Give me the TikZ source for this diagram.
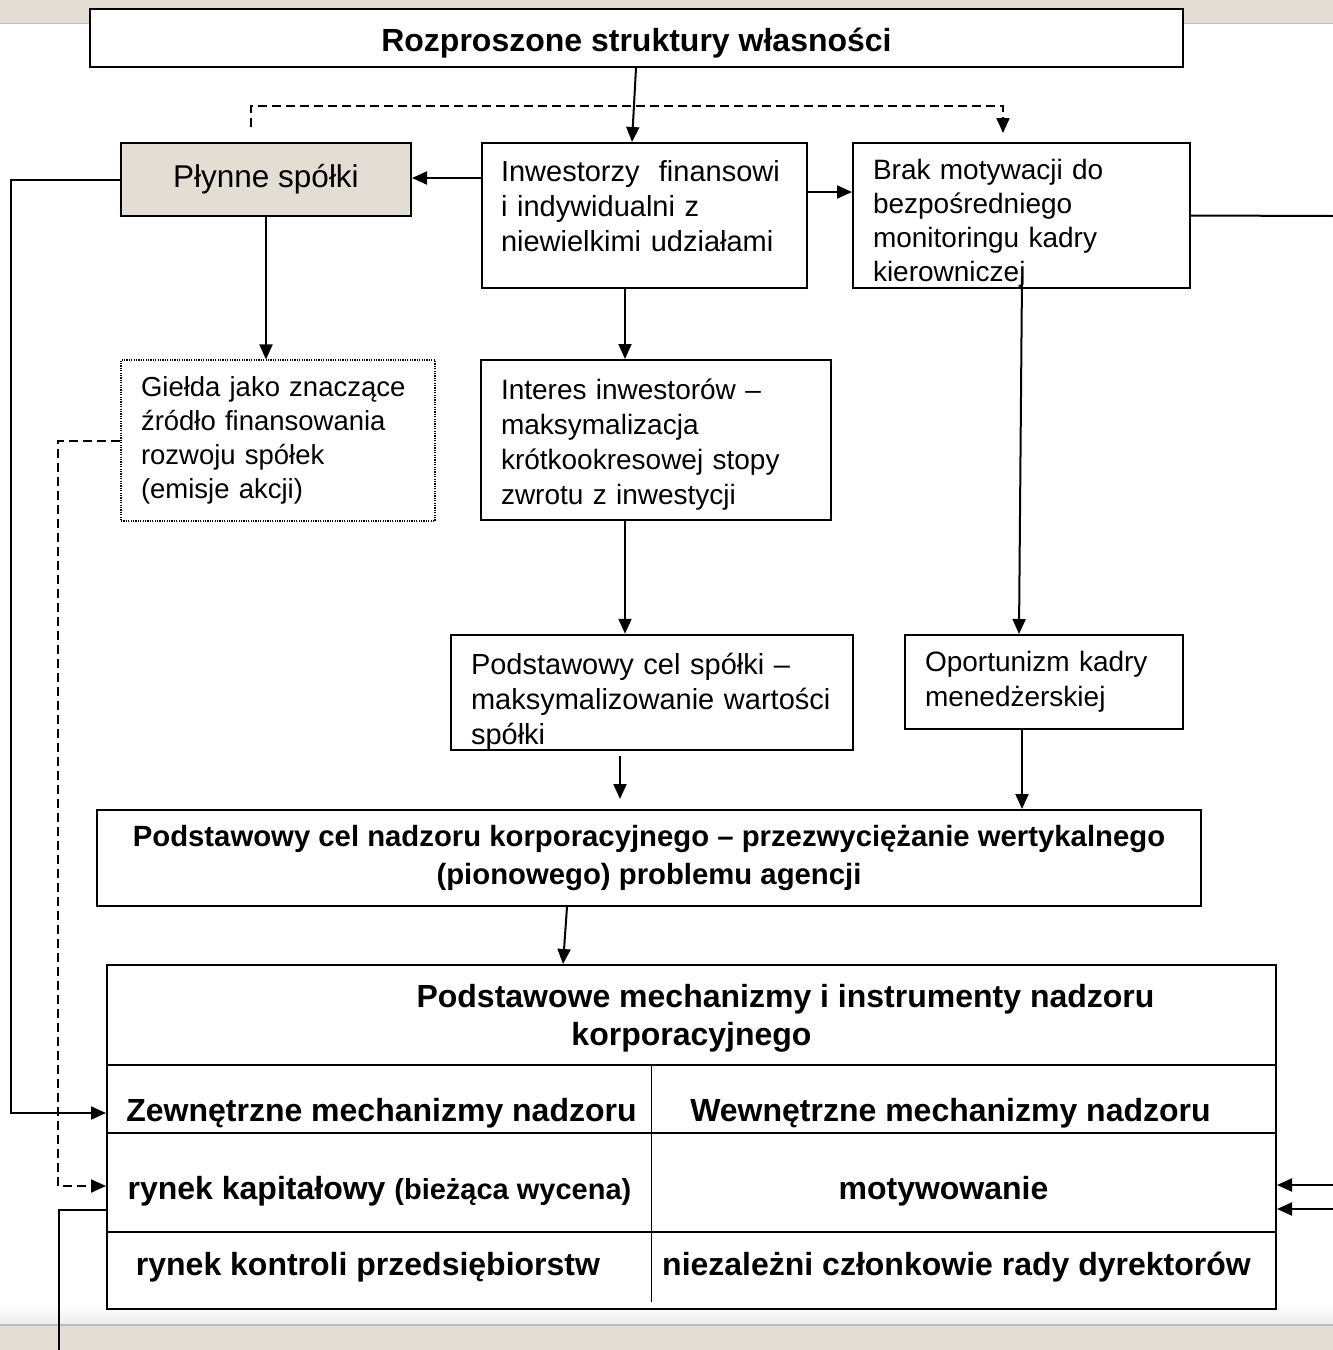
\documentclass[tikz,border=0pt]{standalone}
\usepackage{fontspec}
\setmainfont{Liberation Sans}
\usetikzlibrary{arrows.meta,calc}
\definecolor{beige}{HTML}{E3DDD3}
\definecolor{edgegray}{HTML}{BDBDBD}
\begin{document}
\begin{tikzpicture}[x=1pt,y=-1pt,
  box/.style={draw=black, line width=2pt, rectangle, fill=white, inner ysep=0pt, align=left},
  arr/.style={line width=2pt, -{Triangle[length=15pt,width=13pt]}},
  ln/.style={line width=2pt},
  dsh/.style={line width=2pt, dash pattern=on 9pt off 5pt},
  cell/.style={font=\bfseries\fontsize{32}{38}\selectfont, text height=29pt, text depth=7pt, inner sep=0pt},
]
\useasboundingbox (0,0) rectangle (1333,1350);
\fill[white] (0,0) rectangle (1333,1350);
\fill[beige] (0,0) rectangle (1333,23);
\draw[edgegray, line width=1.5pt] (0,23.5) -- (1333,23.5);
\shade[top color=white, bottom color=black!8] (0,1305) rectangle (1333,1325);
\fill[beige] (0,1325) rectangle (1333,1350);
\draw[edgegray, line width=1.5pt] (0,1325) -- (1333,1325);

% boxes
\node[box, align=center, minimum width=1093pt, minimum height=58pt, text height=34pt, font=\bfseries\fontsize{32}{38}\selectfont] (top) at (636.5,38) {Rozproszone struktury własności};
\node[box, fill=beige, align=center, minimum width=290pt, minimum height=73pt, font=\fontsize{31.5}{38}\selectfont] (plyn) at (266,179.5) {Płynne spółki};
\node[box, text width=287pt, inner xsep=19pt, minimum height=145pt, text height=3pt, font=\fontsize{29}{35}\selectfont] (inw) at (644.5,215.5) {Inwestorzy~ finansowi\\ i indywidualni z\\ niewielkimi udziałami};
\node[box, text width=297pt, inner xsep=20pt, minimum height=145pt, text height=36pt, font=\fontsize{28}{34}\selectfont] (brak) at (1021.5,215.5) {Brak motywacji do\\ bezpośredniego\\ monitoringu kadry\\ kierowniczej};
\node[box, line width=1.2pt, dash pattern=on 1.2pt off 1.2pt, text width=274pt, inner xsep=20pt, minimum height=161pt, font=\fontsize{27.5}{34}\selectfont] (gield) at (278,440.5) {Giełda jako znaczące\\ źródło finansowania\\ rozwoju spółek\\ (emisje akcji)};
\node[box, text width=310pt, inner xsep=20pt, minimum height=160pt, text height=29pt, font=\fontsize{28}{35}\selectfont] (inter) at (656,440) {Interes inwestorów –\\ maksymalizacja\\ krótkookresowej stopy\\ zwrotu z inwestycji};
\node[box, text width=362pt, inner xsep=20pt, minimum height=115pt, text height=39.5pt, font=\fontsize{29}{35}\selectfont] (celsp) at (652,692.5) {Podstawowy cel spółki –\\ maksymalizowanie wartości\\ spółki};
\node[box, text width=238pt, inner xsep=20pt, minimum height=94pt, font=\fontsize{28}{35}\selectfont] (oport) at (1044,682) {Oportunizm kadry\\ menedżerskiej};
\node[box, align=center, minimum width=1104pt, minimum height=96pt, font=\bfseries\fontsize{29.3}{38}\selectfont] (celnad) at (649,858) {Podstawowy cel nadzoru korporacyjnego – przezwyciężanie wertykalnego\\ (pionowego) problemu agencji};
\node[draw, line width=2pt, fill=white, minimum width=1169pt, minimum height=344pt, inner sep=0pt] (table) at (691.5,1137) {};

% table lines
\draw[ln] ($(table.west)+(0,-72)$) -- ($(table.east)+(0,-72)$);
\draw[ln] ($(table.west)+(0,-4)$) -- ($(table.east)+(0,-4)$);
\draw[ln] ($(table.west)+(0,95)$) -- ($(table.east)+(0,95)$);
\draw[line width=1pt] ($(table.center)+(-40.5,-72)$) -- ($(table.center)+(-40.5,165)$);

% table texts
\node[cell] (hdr1) at (785.5,996) {Podstawowe mechanizmy i instrumenty nadzoru};
\node[cell] (hdr2) at (691.5,1034) {korporacyjnego};
\node[cell] (zew) at (381.5,1110) {Zewnętrzne mechanizmy nadzoru};
\node[cell] (wew) at (950.5,1110) {Wewnętrzne mechanizmy nadzoru};
\node[cell] (ryn) at (379.5,1188) {rynek kapitałowy {\fontsize{29}{38}\selectfont(bieżąca wycena)}};
\node[cell] (mot) at (943.5,1188) {motywowanie};
\node[cell] (rkp) at (368,1264) {rynek kontroli przedsiębiorstw};
\node[cell] (niez) at (956.5,1264) {niezależni członkowie rady dyrektorów};

% coordinates
\coordinate (ds) at (251,127);
\coordinate (de) at (1003,133);
\coordinate (c1) at ($(inw.west)+(0,-37.5)$);
\coordinate (c2) at ($(inw.east)+(0,-23.5)$);
\coordinate (c3) at ($(inw.south)+(-19.5,0)$);
\coordinate (c4) at ($(inter.south)+(-31,0)$);
\coordinate (c5) at ($(celsp.south)+(-32,5)$);
\coordinate (c6) at ($(c5 |- celnad.north)+(0,-10)$);
\coordinate (c7) at ($(oport.south)+(-22,0)$);
\coordinate (z1) at ($(table.west)+(0,-24)$);
\coordinate (z2) at ($(table.west)+(0,49)$);
\coordinate (z3) at ($(table.west)+(0,73)$);
\coordinate (bot) at (59,1352);
\coordinate (re) at (1334,216);
\coordinate (r1) at (1334,1185);
\coordinate (r2) at (1334,1209);

% connectors
\draw[arr] ($(top.south)+(-0.5,0)$) -- ($(inw.north)+(-12.5,0)$);
\draw[dsh, arr] (ds) -- ++(0,-21) -| (de);
\draw[arr] (c1) -- (c1 -| plyn.east);
\draw[arr] (c2) -- (c2 -| brak.west);
\draw[arr] (plyn.south) -- (plyn.south |- gield.north);
\draw[arr] (c3) -- (c3 |- inter.north);
\draw[arr] ($(brak.south)+(0.5,-12)$) -- ($(oport.north)+(-25,0)$);
\draw[arr] (c4) -- (c4 |- celsp.north);
\draw[arr] (c5) -- (c6);
\draw[arr] (c7) -- (c7 |- celnad.north);
\draw[arr] ($(celnad.south)+(-82,0)$) -- ($(table.north)+(-128.5,0)$);
\draw[arr] (plyn.west) -- ++(-109,0) |- (z1);
\draw[dsh, arr] (gield.west) -- ++(-62,0) |- (z2);
\draw[ln] (bot) |- (z3);
\draw[ln] (brak.east) -- (re);
\draw[arr] (r1) -- (r1 -| table.east);
\draw[arr] (r2) -- (r2 -| table.east);
\end{tikzpicture}
\end{document}
